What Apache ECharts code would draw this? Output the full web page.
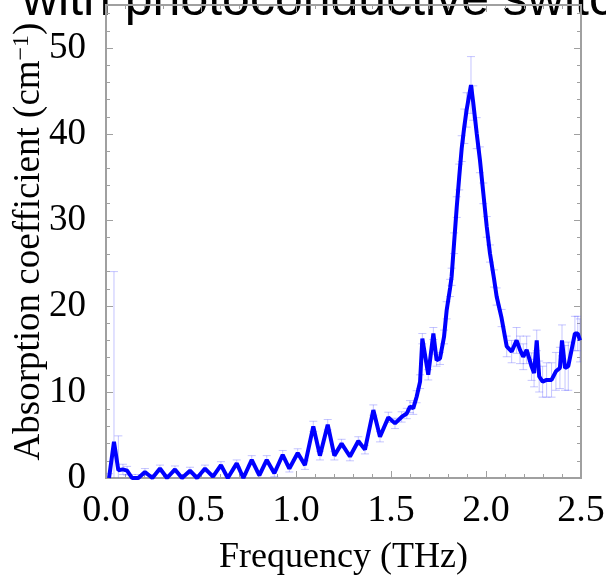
<!DOCTYPE html>
<html>
<head>
<meta charset="utf-8">
<script src="https://cdn.jsdelivr.net/npm/echarts@6/dist/echarts.min.js"></script>
<style>
html,body{margin:0;padding:0;background:#fff;}
#chart{width:606px;height:581px;}
</style>
</head>
<body>
<div id="chart"></div>
<script>
// Frequency (THz)
var freq = [0.016,0.042,0.065,0.089,0.111,0.137,0.170,0.205,0.244,0.284,0.321,0.363,0.400,0.442,0.479,0.521,0.563,0.605,0.641,0.688,0.723,0.767,0.807,0.846,0.886,0.930,0.965,1.009,1.047,1.091,1.126,1.167,1.202,1.240,1.284,1.328,1.363,1.407,1.442,1.486,1.521,1.556,1.583,1.600,1.617,1.635,1.653,1.665,1.696,1.723,1.740,1.758,1.779,1.793,1.811,1.819,1.832,1.846,1.859,1.872,1.886,1.898,1.921,1.933,1.951,1.968,1.986,2.004,2.021,2.042,2.056,2.082,2.109,2.135,2.161,2.179,2.196,2.214,2.240,2.253,2.267,2.280,2.298,2.319,2.345,2.368,2.389,2.400,2.416,2.433,2.468,2.483,2.495];
// Absorption coefficient (cm^-1)
var absorb = [0,4.2,0.9,1.0,0.85,0,0,0.7,0,1.1,0,1.0,0,0.85,0,1.1,0.15,1.5,0,1.7,0,2.1,0.3,2.1,0.55,2.7,1.1,2.9,1.5,6.0,2.6,6.2,2.6,4.0,2.5,4.3,3.3,7.9,4.8,7.05,6.35,7.1,7.5,8.3,8.1,9.45,11.2,16.2,12.0,16.8,13.7,13.9,16.4,19.5,22.1,23.4,27.3,31.5,35.0,38.3,40.9,42.8,45.7,43.6,40.1,37.0,33.1,29.2,26.1,23.2,21.1,18.6,15.3,14.7,16.0,14.9,14.1,14.9,12.95,12.2,16.0,11.8,11.2,11.4,11.4,12.4,12.8,16.0,12.8,13.0,16.8,16.8,16.0];
// Error (±)
var errs = [0.5,19.8,4.0,0.6,0.5,0.4,0.4,0.4,0.4,0.4,0.4,0.4,0.4,0.4,0.4,0.4,0.4,0.4,0.4,0.4,0.4,0.5,0.4,0.5,0.4,0.5,0.4,0.5,0.5,0.6,0.5,0.6,0.5,0.5,0.5,0.5,0.5,0.6,0.6,0.6,0.6,0.6,0.6,0.7,0.7,0.7,0.8,0.6,0.6,0.7,0.7,0.7,0.8,1.0,1.0,1.0,1.2,1.2,1.5,1.5,2.0,2.0,3.3,2.0,1.8,1.5,1.2,1.2,1.0,1.0,1.0,1.0,1.2,1.3,1.5,1.6,1.5,1.6,1.6,1.6,1.2,1.8,1.8,2.0,2.0,2.2,2.4,1.8,2.6,2.8,2.0,2.0,2.5];
// Tick labels
var xTicks = ['0.0','0.5','1.0','1.5','2.0','2.5'];
var yTicks = ['0','10','20','30','40','50'];

var lineData = freq.map(function(f,i){return [f, absorb[i]];});
var errData = freq.map(function(f,i){return [f, absorb[i]-errs[i], absorb[i]+errs[i]];});

var chart = echarts.init(document.getElementById('chart'), null, {renderer:'canvas'});
var serif = '"Liberation Serif", "DejaVu Serif", serif';
var gray = '#a0a0a0';

function tickAxis(type, pos, min, max, interval, len) {
  return {
    type:'value', position:pos, min:min, max:max, interval:interval, offset:0,
    axisLine:{show:true, onZero:false, lineStyle:{color:gray, width:2}},
    axisTick:{show:true, inside:true, length:len, lineStyle:{color:gray, width:1}},
    axisLabel:{show:false}, splitLine:{show:false}
  };
}

chart.setOption({
  animation:false,
  backgroundColor:'#fff',
  graphic:[{
    type:'text', x:22, y:26,
    style:{text:'with photoconductive switch', font:'50px "Liberation Sans", Arial, sans-serif', fill:'#000', verticalAlign:'bottom', textAlign:'left'}
  }],
  grid:{left:106, right:25, top:5, bottom:103, containLabel:false, outerBoundsMode:'none', show:true, borderColor:gray, borderWidth:2, backgroundColor:'transparent'},
  xAxis:[{
    type:'value', min:0, max:2.5, interval:0.5, position:'bottom',
    name:'Frequency (THz)', nameLocation:'middle', nameGap:62, nameMoveOverlap:false,
    nameTextStyle:{fontFamily:serif, fontSize:36, color:'#000'},
    axisLine:{show:true, onZero:false, lineStyle:{color:gray, width:2}},
    axisTick:{show:true, inside:true, length:7, lineStyle:{color:gray, width:1}},
    axisLabel:{fontFamily:serif, fontSize:38, color:'#000', margin:14,
      formatter:function(v){var s=v.toFixed(1); return xTicks.indexOf(s)>=0?s:'';}},
    splitLine:{show:false}
  },
  tickAxis('value','top',0,2.5,0.5,7),
  tickAxis('value','bottom',0,2.5,0.1,4),
  tickAxis('value','top',0,2.5,0.1,4)
  ],
  yAxis:[{
    type:'value', min:0, max:55, interval:10, position:'left',
    name:'{a|Absorption coefficient (cm}{s|−1}{a|)}', nameLocation:'middle', nameGap:58, nameRotate:90, nameMoveOverlap:false,
    nameTextStyle:{rich:{a:{fontFamily:serif, fontSize:37, color:'#000'}, s:{fontFamily:serif, fontSize:24, color:'#000', verticalAlign:'top', padding:[0,0,14,0]}}},
    axisLine:{show:true, onZero:false, lineStyle:{color:gray, width:2}},
    axisTick:{show:true, inside:true, length:7, lineStyle:{color:gray}},
    axisLabel:{fontFamily:serif, fontSize:37, color:'#000', margin:20,
      formatter:function(v){var s=String(v); return yTicks.indexOf(s)>=0?s:'';}},
    splitLine:{show:false}
  },
  tickAxis('value','right',0,55,10,7),
  tickAxis('value','left',0,55,2,4),
  tickAxis('value','right',0,55,2,4)
  ],
  series:[{
    type:'custom',
    xAxisIndex:0, yAxisIndex:0,
    clip:true,
    data:errData,
    z:1,
    renderItem:function(params, api){
      var x = api.value(0), lo = api.value(1), hi = api.value(2);
      var pHi = api.coord([x, hi]), pLo = api.coord([x, lo]);
      var hw = 4;
      var st = {stroke:'rgba(90,90,255,0.35)', lineWidth:1};
      return {type:'group', children:[
        {type:'line', shape:{x1:pHi[0], y1:pHi[1], x2:pLo[0], y2:pLo[1]}, style:st},
        {type:'line', shape:{x1:pHi[0]-hw, y1:pHi[1], x2:pHi[0]+hw, y2:pHi[1]}, style:st},
        {type:'line', shape:{x1:pLo[0]-hw, y1:pLo[1], x2:pLo[0]+hw, y2:pLo[1]}, style:st}
      ]};
    }
  },{
    type:'line',
    xAxisIndex:0, yAxisIndex:0,
    data:lineData,
    showSymbol:false,
    clip:true,
    z:3,
    lineStyle:{color:'#0000ff', width:4},
    itemStyle:{color:'#0000ff'}
  }]
});
</script>
</body>
</html>
